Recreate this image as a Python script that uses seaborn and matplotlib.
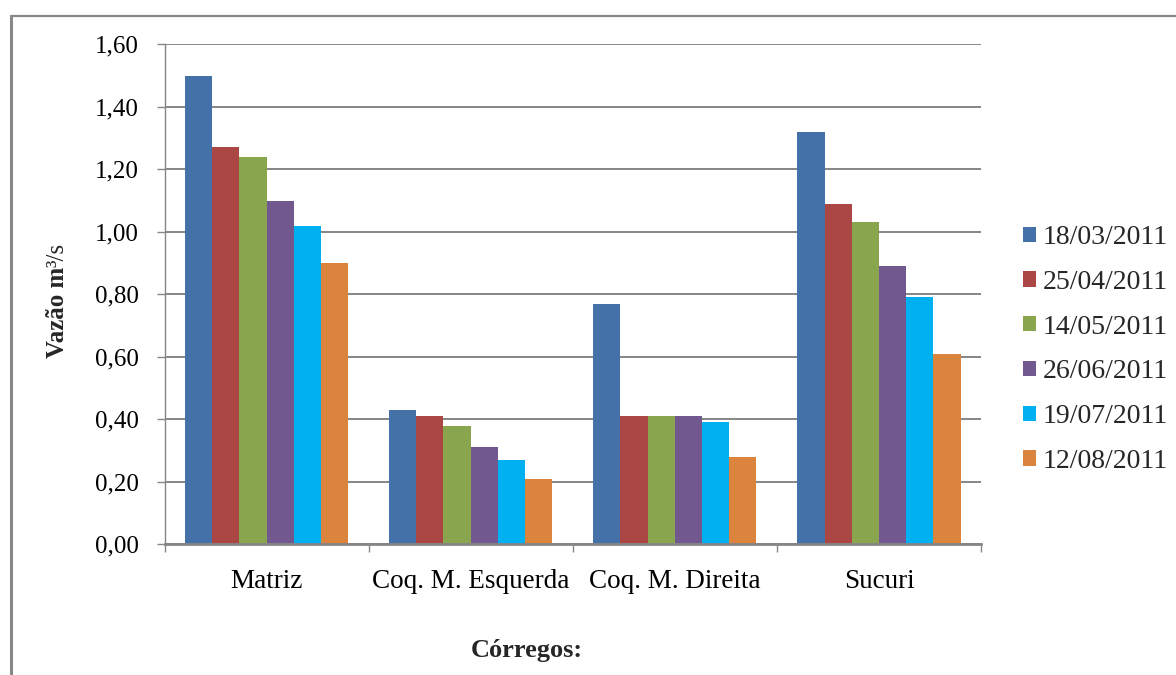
import numpy as np
import pandas as pd
import matplotlib
matplotlib.use("Agg")
import matplotlib.pyplot as plt
import seaborn as sns
from matplotlib.lines import Line2D
from matplotlib.ticker import FuncFormatter, FixedLocator

# ---- data ----
categories = ["Matriz", "Coq. M. Esquerda", "Coq. M. Direita", "Sucuri"]
dates = ["18/03/2011", "25/04/2011", "14/05/2011", "26/06/2011", "19/07/2011", "12/08/2011"]
v_18_03 = [1.50, 0.43, 0.77, 1.32]
v_25_04 = [1.27, 0.41, 0.41, 1.09]
v_14_05 = [1.24, 0.38, 0.41, 1.03]
v_26_06 = [1.10, 0.31, 0.41, 0.89]
v_19_07 = [1.02, 0.27, 0.39, 0.79]
v_12_08 = [0.90, 0.21, 0.28, 0.61]
y_ticks = [0.0, 0.2, 0.4, 0.6, 0.8, 1.0, 1.2, 1.4, 1.6]
colors = ["#4472A8", "#AA4644", "#89A54E", "#71588F", "#00B0F0", "#DB843D"]

series = [v_18_03, v_25_04, v_14_05, v_26_06, v_19_07, v_12_08]
rows = []
for d, vals in zip(dates, series):
    for c, v in zip(categories, vals):
        rows.append({"Córrego": c, "Data": d, "Vazão": v})
df = pd.DataFrame(rows)

# ---- style ----
sns.set_theme(style="white")
plt.rcParams["font.family"] = ["Liberation Serif", "DejaVu Serif"]

W, H = 1176, 675
fig = plt.figure(figsize=(W / 100, H / 100), dpi=100)
fig.patch.set_facecolor("white")

x0, x1, yt, yb = 164.5, 981.0, 44.3, 544.3
ax = fig.add_axes([x0 / W, 1 - yb / H, (x1 - x0) / W, (yb - yt) / H])

sns.barplot(data=df, x="Córrego", y="Vazão", hue="Data", order=categories,
            hue_order=dates, palette=colors, saturation=1, width=0.8,
            linewidth=0, edgecolor="none", errorbar=None, ax=ax)

gridc = "#868686"
ax.set_ylim(0, 1.6)
ax.set_xlim(-0.5, 3.5)
ax.yaxis.set_major_locator(FixedLocator(y_ticks))
ax.yaxis.set_major_formatter(FuncFormatter(lambda v, p: f"{v:.2f}".replace(".", ",")))
ax.grid(axis="y", color=gridc, linewidth=1.4)
ax.set_axisbelow(True)

for s in ["top", "right"]:
    ax.spines[s].set_visible(False)
ax.spines["left"].set_color(gridc)
ax.spines["left"].set_linewidth(1.0)
ax.spines["bottom"].set_color(gridc)
ax.spines["bottom"].set_linewidth(2.0)

ax.tick_params(axis="y", which="major", length=8 * 0.72, width=1.0, color=gridc,
               direction="out", pad=12.7, labelsize=18, labelcolor="black", left=True)
ax.tick_params(axis="x", which="major", length=0, pad=18, labelsize=19.5, labelcolor="black")
ax.xaxis.set_minor_locator(FixedLocator([-0.5, 0.5, 1.5, 2.5, 3.5]))
ax.tick_params(axis="x", which="minor", length=8 * 0.72, width=1.0, color=gridc,
               direction="out", bottom=True)

ax.set_xlabel("")
ax.set_ylabel("")

# legend
handles, labels = ax.get_legend_handles_labels()
if ax.get_legend() is not None:
    ax.get_legend().remove()
fs_leg = 20
fig.legend(handles, labels, loc="center left",
           bbox_to_anchor=(1023 / W, 1 - 349.5 / H), bbox_transform=fig.transFigure,
           frameon=False, fontsize=fs_leg, handlelength=0.47, handleheight=0.47,
           handletextpad=0.25, labelspacing=0.71, borderpad=0, borderaxespad=0)

# axis titles
fig.text(527 / W, 1 - 651 / H, "Córregos:", ha="center", va="center",
         fontsize=19, fontweight="bold")

yl_x = 57 / W
yl_bottom = 1 - 358 / H
t1 = fig.text(yl_x, yl_bottom, "Vazão m", rotation=90, ha="center", va="bottom",
              fontsize=18, fontweight="bold")
fig.canvas.draw()
bb = t1.get_window_extent()
top_frac = bb.y1 / fig.bbox.height
fig.text(bb.x1 / fig.bbox.width, top_frac, "³/s", rotation=90, ha="right", va="bottom",
         fontsize=18)

# outer frame (clipped at right and bottom)
bx, by = 10.5, 15.7
fig.add_artist(Line2D([bx / W, bx / W], [0, 1 - by / H], color="#888888", linewidth=2.2,
                      transform=fig.transFigure))
fig.add_artist(Line2D([bx / W, 1.0], [1 - by / H, 1 - by / H], color="#888888",
                      linewidth=1.6, transform=fig.transFigure))

fig.savefig("out.png", dpi=100, facecolor="white")
